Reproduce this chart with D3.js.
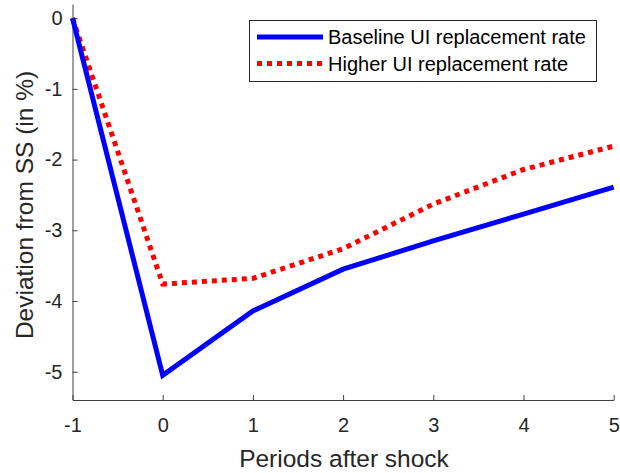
<!DOCTYPE html>
<html><head><meta charset="utf-8">
<script src="https://cdn.jsdelivr.net/npm/d3@7"></script>
<style>body{margin:0;background:#fff}svg{display:block}text{font-family:"Liberation Sans",Arial,sans-serif}</style>
</head><body>
<svg id="c" width="620" height="473"></svg>
<script>
const periods = [-1, 0, 1, 2, 3, 4, 5];
const baseline = [0, -5.05, -4.14, -3.55, -3.15, -2.77, -2.39];
const higher = [0, -3.76, -3.68, -3.26, -2.63, -2.14, -1.81];
const xTicks = [-1, 0, 1, 2, 3, 4, 5];
const yTicks = [0, -1, -2, -3, -4, -5];
const seriesNames = ["Baseline UI replacement rate", "Higher UI replacement rate"];

const svg = d3.select("#c");
const m = {l: 72.5, r: 613.7, t: 4, b: 400};
const x = d3.scaleLinear().domain([-1, 5]).range([m.l, m.r]);
const y = d3.scaleLinear().domain([-5.4, 0.2]).range([m.b, m.t]);
const axisCol = "#404040";
const fmt = d => d3.format("d")(d).replace("\u2212", "-");

const xa = svg.append("g").attr("transform", `translate(0,${m.b})`)
  .call(d3.axisBottom(x).tickValues(xTicks).tickSizeInner(-5).tickSizeOuter(0).tickPadding(18).tickFormat(fmt));
const ya = svg.append("g").attr("transform", `translate(${m.l},0)`)
  .call(d3.axisLeft(y).tickValues(yTicks).tickSizeInner(-5).tickSizeOuter(0).tickPadding(10).tickFormat(fmt));
[xa, ya].forEach(a => {
  a.select(".domain").attr("stroke", axisCol).attr("stroke-width", 1);
  a.selectAll(".tick line").attr("stroke", axisCol);
  a.selectAll(".tick text").attr("fill", "#262626").style("font-size", "20px");
});

const line = d3.line().x((d, i) => x(periods[i])).y(d => y(d));
svg.append("path").datum(higher).attr("d", line).attr("fill", "none")
  .attr("stroke", "#ff0000").attr("stroke-width", 5).attr("stroke-dasharray", "5,5");
svg.append("path").datum(baseline).attr("d", line).attr("fill", "none")
  .attr("stroke", "#0000ff").attr("stroke-width", 5);

svg.append("text").attr("x", 344).attr("y", 467).attr("text-anchor", "middle")
  .attr("fill", "#262626").style("font-size", "24.5px").text("Periods after shock");
svg.append("text").attr("transform", `translate(33,205) rotate(-90)`).attr("text-anchor", "middle")
  .attr("fill", "#262626").style("font-size", "24.5px").text("Deviation from SS (in %)");

// legend
const lg = svg.append("g");
lg.append("rect").attr("x", 249.5).attr("y", 20.5).attr("width", 347).attr("height", 61)
  .attr("fill", "#fff").attr("stroke", "#262626").attr("stroke-width", 1);
const styles = [{c: "#0000ff", d: null}, {c: "#ff0000", d: "5,5"}];
seriesNames.forEach((n, i) => {
  const yy = 37 + i * 26.5;
  lg.append("line").attr("x1", 257).attr("x2", 323).attr("y1", yy).attr("y2", yy)
    .attr("stroke", styles[i].c).attr("stroke-width", 5).attr("stroke-dasharray", styles[i].d);
  lg.append("text").attr("x", 328).attr("y", yy).attr("dy", "0.35em").attr("fill", "#000")
    .style("font-size", "20px").text(n);
});
</script>
</body></html>
